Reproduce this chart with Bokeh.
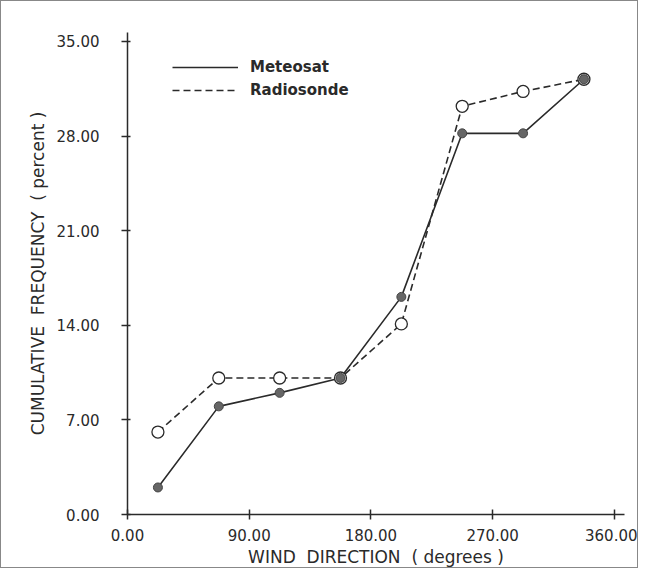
from bokeh.plotting import figure
from bokeh.models import Range1d, FixedTicker, PrintfTickFormatter, Legend, LegendItem
from bokeh.embed import file_html
from bokeh.resources import INLINE

# Data
direction = [22.5, 67.5, 112.5, 157.5, 202.5, 247.5, 292.5, 337.5]
meteosat = [2.0, 8.0, 9.0, 10.1, 16.1, 28.2, 28.2, 32.2]
radiosonde = [6.1, 10.1, 10.1, 10.1, 14.1, 30.2, 31.3, 32.2]
x_ticks = [0, 90, 180, 270, 360]
y_ticks = [0, 7, 14, 21, 28, 35]

FONT = "DejaVu Sans"
INK = "#2a2a2a"
NB = "\u00a0"

p = figure(width=638, height=568, output_backend="svg", toolbar_location=None,
           x_range=Range1d(0, 367.5), y_range=Range1d(0, 35.66),
           min_border_left=126, min_border_right=15, min_border_top=31, min_border_bottom=51)
p.outline_line_color = None
p.grid.grid_line_color = None
p.styles = {"border": "1px solid #888888"}

for ax in (p.xaxis[0], p.yaxis[0]):
    ax.axis_line_color = INK
    ax.axis_line_width = 1.5
    ax.major_tick_line_color = INK
    ax.major_tick_line_width = 1.5
    ax.minor_tick_line_color = None
    ax.major_label_text_font = FONT
    ax.major_label_text_font_size = "15px"
    ax.major_label_text_color = INK
    ax.axis_label_text_font = FONT
    ax.axis_label_text_font_size = "17px"
    ax.axis_label_text_font_style = "normal"
    ax.axis_label_text_color = INK
    ax.formatter = PrintfTickFormatter(format="%.2f")

p.xaxis.ticker = FixedTicker(ticks=x_ticks)
p.yaxis.ticker = FixedTicker(ticks=y_ticks)
p.xaxis.major_tick_in = 5
p.xaxis.major_tick_out = 5
p.yaxis.major_tick_in = 3
p.yaxis.major_tick_out = 6
p.xaxis.major_label_standoff = 9
p.yaxis.major_label_standoff = 22
p.xaxis.axis_label = "WIND" + NB * 2 + "DIRECTION" + NB * 2 + "(" + NB + "degrees" + NB + ")"
p.yaxis.axis_label = "CUMULATIVE" + NB * 2 + "FREQUENCY" + NB * 2 + "(" + NB + "percent" + NB + ")"
p.xaxis.axis_label_standoff = 3
p.yaxis.axis_label_standoff = 6

l1 = p.line(direction, meteosat, line_color=INK, line_width=1.6)
l2 = p.line(direction, radiosonde, line_color=INK, line_width=1.6, line_dash="7 4")
p.scatter(direction, radiosonde, marker="circle", size=12, fill_color="white",
          line_color=INK, line_width=1.3)
p.scatter(direction, meteosat, marker="circle", size=9, fill_color="#666666",
          line_color="#444444", line_width=1)

legend = Legend(items=[LegendItem(label="Meteosat", renderers=[l1]),
                       LegendItem(label="Radiosonde", renderers=[l2])],
                location=(45, 415), glyph_width=66, glyph_height=18,
                label_standoff=12, spacing=5, padding=0, margin=0,
                border_line_color=None, background_fill_alpha=0,
                label_text_font=FONT, label_text_font_size="15px",
                label_text_color=INK, label_text_font_style="bold")
p.add_layout(legend)

open("out.html", "w").write(file_html(p, INLINE))
